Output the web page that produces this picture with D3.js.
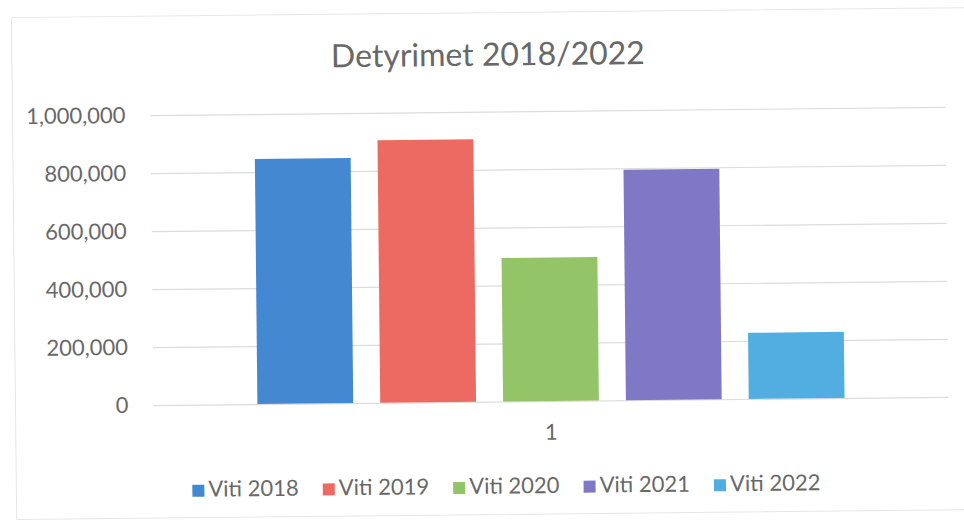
<!DOCTYPE html>
<html>
<head>
<meta charset="utf-8">
<script src="https://cdn.jsdelivr.net/npm/d3@7"></script>
<style>
  html, body { margin: 0; padding: 0; background: #fff; }
  svg { display: block; font-family: Lato, "Noto Sans", sans-serif; }
</style>
</head>
<body>
<div id="chart"></div>
<script>
const categories = ['1']
    , series = ['Viti 2018', 'Viti 2019', 'Viti 2020', 'Viti 2021', 'Viti 2022']
    , values = [845000, 905000, 495000, 795000, 228000]
    , yTicks = [0, 200000, 400000, 600000, 800000, 1000000]
    , colors = ['#4588d2', '#ec6a62', '#93c468', '#7f78c4', '#52ade0']
    ;

const width = 964
    , height = 522
    , tilt = -0.6
    , frame = {left: 14, top: 12, right: 980, bottom: 514}
    , plot = {left: 152, right: 947, top: 111, bottom: 401}
    , textColor = '#686868'
    , gridColor = '#dcdcdc'
    , fontSize = '22px'
    ;

const svg = d3.select('#chart')
  .append('svg')
  .attr('width', width)
  .attr('height', height);

// the source is a slightly skewed scan, so the whole chart is turned a touch
const g = svg.append('g')
  .attr('transform', `rotate(${tilt}, 550, 260)`);

g.append('rect')
  .attr('x', frame.left)
  .attr('y', frame.top)
  .attr('width', frame.right - frame.left)
  .attr('height', frame.bottom - frame.top)
  .attr('fill', '#fff')
  .attr('stroke', '#e6e6e6');

const y = d3.scaleLinear()
  .domain([0, 1000000])
  .range([plot.bottom, plot.top]);

const x0 = d3.scaleBand()
  .domain(categories)
  .range([plot.left, plot.right])
  .paddingOuter(0.177);

const x1 = d3.scaleBand()
  .domain(series)
  .range([0, x0.bandwidth()])
  .paddingInner(0.22);

// gridlines
g.append('g')
  .attr('transform', `translate(${plot.left},0)`)
  .call(d3.axisLeft(y).tickValues(yTicks).tickSize(-(plot.right - plot.left)).tickFormat(''))
  .call(a => a.select('.domain').remove())
  .call(a => a.selectAll('line').attr('stroke', gridColor).attr('stroke-width', 1.2));

// tick labels
g.append('g')
  .attr('transform', `translate(${plot.left - 22},0)`)
  .call(d3.axisLeft(y).tickValues(yTicks).tickSize(0).tickFormat(d3.format(',')))
  .call(a => a.select('.domain').remove())
  .call(a => a.selectAll('text')
    .attr('fill', textColor)
    .style('font-size', fontSize)
    .style('font-family', 'Lato, "Noto Sans", sans-serif'));

// bars
g.append('g')
  .selectAll('g')
  .data(categories)
  .join('g')
    .attr('transform', d => `translate(${x0(d)},0)`)
  .selectAll('rect')
  .data(() => series.map((s, i) => ({s, v: values[i], c: colors[i]})))
  .join('rect')
    .attr('x', d => x1(d.s))
    .attr('y', d => y(d.v))
    .attr('width', x1.bandwidth())
    .attr('height', d => y(0) - y(d.v))
    .attr('fill', d => d.c);

// category axis
g.append('g')
  .attr('transform', `translate(0,${plot.bottom + 20})`)
  .call(d3.axisBottom(x0).tickSize(0))
  .call(a => a.select('.domain').remove())
  .call(a => a.selectAll('text')
    .attr('fill', textColor)
    .style('font-size', fontSize)
    .style('font-family', 'Lato, "Noto Sans", sans-serif'));

// title
g.append('text')
  .attr('x', 490)
  .attr('y', 65)
  .attr('text-anchor', 'middle')
  .attr('fill', textColor)
  .style('font-size', '32px')
  .text('Detyrimet 2018/2022');

// legend
const legend = g.append('g');

let lx = 0;
series.forEach((s, i) => {
  const item = legend.append('g').attr('transform', `translate(${lx},0)`);
  item.append('rect')
    .attr('x', 0)
    .attr('y', -12)
    .attr('width', 12)
    .attr('height', 12)
    .attr('fill', colors[i]);
  const t = item.append('text')
    .attr('x', 16)
    .attr('y', 0)
    .attr('fill', textColor)
    .style('font-size', fontSize)
    .text(s);
  lx += 16 + t.node().getComputedTextLength() + 24;
});
const legendWidth = lx - 24;
legend.attr('transform', `translate(${504 - legendWidth / 2},493)`);
</script>
</body>
</html>
